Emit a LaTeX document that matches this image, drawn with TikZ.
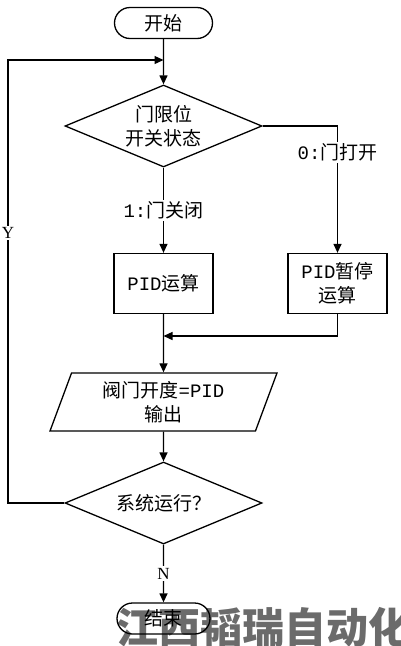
\documentclass[tikz,border=0pt]{standalone}
\usepackage{fontspec}
\setmainfont{Noto Sans CJK SC}
\newfontfamily\mono{Liberation Mono}
\newfontfamily\lat{Liberation Serif}
\usetikzlibrary{shapes.geometric,shapes.misc,arrows.meta}
\definecolor{wm}{HTML}{6B6B6B}
\begin{document}
\begin{tikzpicture}[x=1pt,y=-1pt,
  every node/.style={font=\fontsize{19}{24}\selectfont},
  ln/.style={line width=1.2pt},
  arr/.style={line width=1.3pt, -{Triangle[length=9pt,width=8pt]}},
  term/.style={draw, line width=1.3pt, rounded rectangle, minimum width=98pt, minimum height=31pt, inner sep=0pt},
  proc/.style={draw, line width=1.3pt, minimum width=99pt, minimum height=60pt, align=center, inner sep=0pt},
  dec/.style={draw, line width=1.3pt, diamond, aspect=2.4, minimum width=197pt, minimum height=82pt, inner sep=0pt, align=center},
  io/.style={draw, line width=1.3pt, trapezium, trapezium left angle=62.6, trapezium right angle=117.4, trapezium stretches body, minimum width=227pt, minimum height=58pt, inner sep=0pt, align=center},
  lab/.style={fill=white, inner sep=1.5pt},
  ylab/.style={fill=white, inner sep=1.5pt, font=\fontsize{17}{17}\lat},
]
\useasboundingbox (0,0) rectangle (400,646);

\node[term] (start) at (163.5,23) {开始};
\coordinate (j1) at (163.5,60);
\node[dec] (d1) at (163.5,126) {门限位\\开关状态};
\node[proc] (p1) at (163.5,283.5) {{\mono PID}运算};
\node[proc] (p2) at (337.5,283.5) {{\mono PID}暂停\\运算};
\coordinate (m1) at (163.5,336);
\node[io] (io) at (163.5,402) {阀门开度{\mono =PID}\\输出};
\node[dec] (d2) at (163.5,503) {系统运行？};
\coordinate (lb) at (8,503);
\coordinate (lt) at (8,60);

% watermark
\node[anchor=base west, inner sep=0pt, text=wm, font=\fontsize{42}{42}\selectfont\bfseries] (wmk) at (116,643) {江西韬瑞自动化};

\node[term, minimum width=93pt] (end) at (163.5,618.5) {结束};

% connectors
\draw[arr] (start) -- (d1);
\draw[arr] (d1) -- node[lab] {{\mono 1:}门关闭} (p1);
\draw[arr] (d1.east) -| node[lab, pos=0.605] {{\mono 0:}门打开} (p2.north);
\draw[arr] (p1) -- (io);
\draw[arr] (p2.south) |- (m1);
\draw[arr] (io) -- (d2);
\draw[arr] (d2) -- node[ylab] {N} (end);
\draw[arr] (d2.west) -- (lb) -- node[ylab, pos=0.61] {Y} (lt) -- (j1);
\end{tikzpicture}
\end{document}
